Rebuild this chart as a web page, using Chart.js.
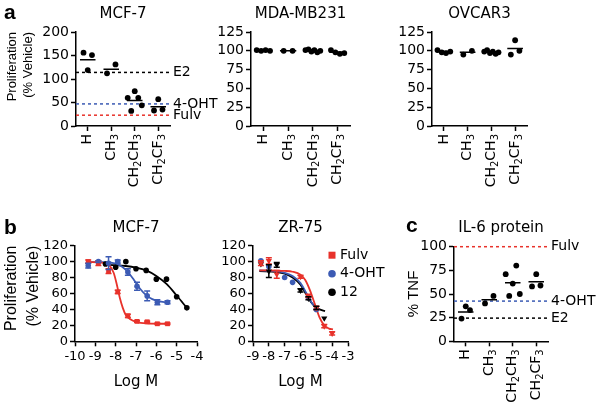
<!DOCTYPE html>
<html>
<head>
<meta charset="utf-8">
<script src="https://cdn.jsdelivr.net/npm/chart.js@4.4.1/dist/chart.umd.min.js"></script>
<style>
  body { margin: 0; background: #fff; }
  #fig { position: relative; width: 604px; height: 416px; overflow: hidden; }
  canvas { position: absolute; }
  .tag { position: absolute; font: bold 21px "Liberation Sans", Arial, sans-serif; line-height: 24px; }
</style>
</head>
<body>
<div id="fig">
  <canvas id="a1" width="232" height="210" style="left:0;top:0"></canvas>
  <canvas id="a2" width="170" height="210" style="left:205px;top:0"></canvas>
  <canvas id="a3" width="219" height="210" style="left:385px;top:0"></canvas>
  <canvas id="b1" width="215" height="193" style="left:0;top:200px"></canvas>
  <canvas id="b2" width="175" height="193" style="left:215px;top:200px"></canvas>
  <canvas id="c1" width="209" height="216" style="left:395px;top:200px"></canvas>
  <div class="tag" style="left:4px;top:0px">a</div>
  <div class="tag" style="left:4px;top:215px">b</div>
  <div class="tag" style="left:406px;top:213px">c</div>
</div>
<script>
// ---- data ----
const groups = ["H", "CH₃", "CH₂CH₃", "CH₂CF₃"];
const refNames = ["E2", "4-OHT", "Fulv"];

// panel a, replicates listed left to right inside each group
const mcf7Dots = [[156, 119, 151], [112, 131], [60, 32, 74, 60, 44], [33, 57, 35]];
const mcf7Means = [141, 121, 54, 41];
const mcf7Refs = [114, 47, 23];

const mdaDots = [[101, 100, 101, 100], [100, 100], [101, 102, 99, 101, 98, 100], [101, 98, 96, 97]];
const mdaMeans = [100.5, 100, 100, 98];

const ovcarDots = [[101, 98, 97, 99], [95, 100], [99, 101, 97, 99, 96, 98], [95, 114, 100]];
const ovcarMeans = [99, 98, 98.5, 103];

// panel b, MCF-7 (log M)
const fulvX = [-9.35, -8.85, -8.35, -7.9, -7.4, -6.95, -6.45, -5.95, -5.45];
const fulvY = [100, 98, 88, 62, 32, 25, 24.5, 22, 22];
const fulvErr = [2, 3, 3, 2, 2, 1, 1, 1, 1];
const ohtX = [-9.35, -8.85, -8.35, -7.9, -7.4, -6.95, -6.45, -5.95, -5.45];
const ohtY = [95, 100, 98, 100, 87, 69, 57, 49, 49];
const ohtErr = [3, 1, 8, 2, 4, 5, 6, 3, 2];
const cmpX = [-8.5, -8, -7.5, -7, -6.5, -6, -5.5, -5, -4.5];
const cmpY = [97, 93, 100, 91, 89, 78, 78, 56, 42];

const fulvFitX = [-9.35, -8.6, -8.3, -8.1, -7.95, -7.8, -7.65, -7.5, -7.3, -7.0, -6.5, -5.45];
const fulvFitY = [99.5, 98.5, 95, 86, 72, 55, 42, 33, 28, 24.5, 22.5, 22];
const ohtFitX = [-9.35, -8.5, -8, -7.7, -7.4, -7.1, -6.8, -6.5, -6.2, -5.9, -5.45];
const ohtFitY = [99.5, 99.3, 97.5, 94, 87, 77, 66, 58, 53, 50.5, 48.8];
const cmpFitX = [-8.5, -8, -7.5, -7, -6.5, -6, -5.5, -5, -4.5];
const cmpFitY = [96, 95.5, 94.5, 92.5, 89, 82, 72, 57.5, 42];

// panel b, ZR-75
const fulv2X = [-8.5, -8, -7.5, -6, -5.5, -5, -4.5, -4];
const fulv2Y = [98, 101, 84, 81, 57, 42, 19, 10];
const fulv2Err = [3, 4, 5, 2, 2, 2, 2, 2];
const oht2X = [-8.5, -8, -7, -6.5, -5.5, -5];
const oht2Y = [101, 94, 80, 74, 55, 40];
const cmp2X = [-8.5, -8, -7.5, -6, -5.5, -5, -4.5];
const cmp2Y = [97, 88, 96, 64, 54, 42, 29];
const cmp2Err = [0, 8, 3, 2, 2, 2, 0];

const fulv2FitX = [-8.6, -7.5, -7, -6.5, -6, -5.7, -5.4, -5.1, -4.8, -4.5, -4.2, -3.95];
const fulv2FitY = [89, 88.8, 88.4, 87.3, 83.5, 77, 64, 47, 30, 20, 16, 15];
const oht2FitX = [-8.6, -7.5, -7, -6.5, -6, -5.7, -5.4, -5.1, -4.95];
const oht2FitY = [89, 88, 86, 82, 73, 63, 52, 43, 40];
const cmp2FitX = [-8.6, -7.5, -7, -6.5, -6, -5.7, -5.4, -5.1, -4.8, -4.45];
const cmp2FitY = [88, 87, 85, 80, 71, 61, 51, 44, 40, 38];

const legendNames = ["Fulv", "4-OHT", "12"];

// panel c, IL-6 protein
const il6Dots = [[24, 37, 33], [40, 48], [71, 48, 61, 80, 50], [58, 71, 59]];
const il6Means = [31, 44, 62, 63];
const il6RefNames = ["Fulv", "4-OHT", "E2"];
const il6Refs = [100, 42.5, 24.5];

// ---- styling ----
const RED = "#e8322b", BLUE = "#3c5bb4", BLACK = "#000";
Chart.defaults.font.family = '"DejaVu Sans", sans-serif';
Chart.defaults.font.size = 13;
Chart.defaults.color = BLACK;
Chart.defaults.animation = false;
Chart.defaults.plugins.legend.display = false;
Chart.defaults.plugins.tooltip.enabled = false;

const axisBorder = { display: true, color: BLACK, width: 1.5 };
const axisGrid = { display: true, drawOnChartArea: false, tickLength: 5, tickWidth: 1.5, tickColor: BLACK };
const titleFont = { size: 15, weight: "normal" };
const SUBS = "₀₁₂₃₄₅₆₇₈₉";

// spread replicate dots side by side
function spread(k, n) {
  if (n < 2) return 0;
  const step = n === 2 ? 0.36 : Math.min(0.18, 0.6 / (n - 1));
  return (k - (n - 1) / 2) * step;
}

// rotated group names with real (smaller, lowered) subscripts
const chemLabels = {
  id: "chemLabels",
  afterDraw(chart) {
    const { ctx } = chart;
    const sx = chart.scales.x;
    sx.ticks.forEach(t => {
      const segs = [...groups[t.value]].map(ch => {
        const i = SUBS.indexOf(ch);
        return i >= 0 ? { t: String(i), sub: true } : { t: ch, sub: false };
      });
      let w = 0;
      segs.forEach(s => { ctx.font = s.sub ? '10px "DejaVu Sans"' : '14px "DejaVu Sans"'; s.w = ctx.measureText(s.t).width; w += s.w; });
      ctx.save();
      ctx.translate(sx.getPixelForValue(t.value), sx.top + 8);
      ctx.rotate(-Math.PI / 2);
      ctx.textBaseline = "middle";
      ctx.fillStyle = BLACK;
      let cx = -w;
      segs.forEach(s => {
        ctx.font = s.sub ? '10px "DejaVu Sans"' : '14px "DejaVu Sans"';
        ctx.fillText(s.t, cx, s.sub ? 4 : 0);
        cx += s.w;
      });
      ctx.restore();
    });
  }
};

function refText(names, vals) {
  return {
    id: "refText",
    afterDraw(chart) {
      const { ctx, chartArea, scales } = chart;
      ctx.save();
      ctx.font = '14px "DejaVu Sans"';
      ctx.fillStyle = BLACK;
      ctx.textBaseline = "middle";
      names.forEach((n, i) => ctx.fillText(n, chartArea.right + 3, scales.y.getPixelForValue(vals[i])));
      ctx.restore();
    }
  };
}

const errBars = {
  id: "errBars",
  afterDatasetsDraw(chart) {
    const { ctx, scales: { x, y } } = chart;
    chart.data.datasets.forEach(ds => {
      if (!ds.err) return;
      ctx.save();
      ctx.strokeStyle = ds.pointBackgroundColor;
      ctx.lineWidth = 1.5;
      ds.data.forEach((p, i) => {
        const e = ds.err[i];
        if (!e) return;
        const px = x.getPixelForValue(p.x);
        const y1 = y.getPixelForValue(p.y + e), y2 = y.getPixelForValue(p.y - e);
        ctx.beginPath();
        ctx.moveTo(px, y1); ctx.lineTo(px, y2);
        ctx.moveTo(px - 3, y1); ctx.lineTo(px + 3, y1);
        ctx.moveTo(px - 3, y2); ctx.lineTo(px + 3, y2);
        ctx.stroke();
      });
      ctx.restore();
    });
  }
};

const pointLegend = {
  id: "pointLegend",
  afterDraw(chart) {
    const { ctx, chartArea } = chart;
    const marks = [["rect", RED], ["circle", BLUE], ["circle", BLACK]];
    ctx.save();
    ctx.font = '14px "DejaVu Sans"';
    ctx.textBaseline = "middle";
    legendNames.forEach((name, i) => {
      const x = chartArea.right - 16, y = chartArea.top + 9.5 + i * 18.5;
      ctx.fillStyle = marks[i][1];
      if (marks[i][0] === "rect") ctx.fillRect(x - 3.5, y - 3.5, 7, 7);
      else { ctx.beginPath(); ctx.arc(x, y, 3.8, 0, 2 * Math.PI); ctx.fill(); }
      ctx.fillStyle = BLACK;
      ctx.fillText(name, x + 8, y);
    });
    ctx.restore();
  }
};

function dotChart(id, o) {
  const datasets = [{
    data: o.dots.flatMap((arr, i) => arr.map((v, k) => ({ x: i + spread(k, arr.length), y: v }))),
    pointRadius: 2.9, pointBackgroundColor: BLACK, pointBorderWidth: 0, clip: false
  }, {
    data: o.means.flatMap((m, i) => [{ x: i - 0.33, y: m }, { x: i + 0.33, y: m }, { x: i + 0.5, y: null }]),
    showLine: true, borderColor: BLACK, borderWidth: 1.5, pointRadius: 0, spanGaps: false
  }];
  (o.refs || []).forEach((v, i) => datasets.push({
    data: [{ x: -0.5, y: v }, { x: 3.5, y: v }],
    showLine: true, borderColor: o.refColors[i], borderWidth: 1.5, borderDash: [3, 3], pointRadius: 0, clip: false
  }));
  return new Chart(document.getElementById(id), {
    type: "scatter",
    data: { datasets },
    options: {
      responsive: false,
      layout: { padding: { right: o.padR } },
      plugins: {
        title: { display: true, text: o.title, fullSize: false, font: titleFont,
                 padding: { top: o.tTop, bottom: o.tBot } }
      },
      scales: {
        x: {
          type: "linear", min: -0.5, max: 3.5, border: axisBorder, grid: axisGrid,
          afterBuildTicks: s => { s.ticks = [0, 1, 2, 3].map(v => ({ value: v })); },
          ticks: { display: false },
          afterFit: s => { s.height = o.xH; }
        },
        y: {
          min: 0, max: o.yMax, border: axisBorder, grid: axisGrid,
          ticks: { stepSize: o.yStep, autoSkip: false, padding: 2, font: { size: 14 } },
          title: o.yTitle ? { display: true, text: o.yTitle, align: o.yAlign || "center",
                   font: { family: '"Liberation Sans", Arial', size: o.yTitleSize, lineHeight: 1.3 },
                   padding: { top: o.yTitlePad, bottom: 0 } } : { display: false },
          afterFit: s => { s.width = o.yW; }
        }
      }
    },
    plugins: [chemLabels].concat(o.refNames ? [refText(o.refNames, o.refs)] : [])
  });
}

function pts(xs, ys, color, style, errs, rotation) {
  return {
    data: xs.map((x, i) => ({ x, y: ys[i] })),
    pointStyle: style, pointRadius: style === "rect" ? 3.4 : style === "triangle" ? 3.6 : 2.8,
    pointRotation: rotation || 0, pointBackgroundColor: color, pointBorderWidth: 0,
    err: errs, clip: false
  };
}
function fit(xs, ys, color) {
  return {
    data: xs.map((x, i) => ({ x, y: ys[i] })),
    showLine: true, borderColor: color, borderWidth: 1.8, pointRadius: 0,
    cubicInterpolationMode: "monotone", clip: false
  };
}

function doseChart(id, o) {
  return new Chart(document.getElementById(id), {
    type: "scatter",
    data: { datasets: o.datasets },
    options: {
      responsive: false,
      layout: { padding: { right: o.padR } },
      plugins: {
        title: { display: true, text: o.title, fullSize: false, font: titleFont,
                 padding: { top: 19, bottom: 8.7 } }
      },
      scales: {
        x: {
          type: "linear", min: o.xMin, max: o.xMax, border: axisBorder, grid: axisGrid,
          ticks: { stepSize: 1, autoSkip: false, maxRotation: 0, minRotation: 0, padding: 3,
                   font: { size: 13 }, callback: v => String(v) },
          title: { display: true, text: "Log M", font: { size: 15 }, padding: { top: 0, bottom: 2 } },
          afterFit: s => { s.height = 51.7; }
        },
        y: {
          min: 0, max: 120, border: axisBorder, grid: axisGrid,
          ticks: { stepSize: 20, autoSkip: false, padding: 2, font: { size: 13 } },
          title: o.yTitle ? { display: true, text: o.yTitle, align: "end",
                   font: { family: '"Liberation Sans", Arial', size: 16, lineHeight: 1.35 },
                   padding: { top: 1.2, bottom: 0 } } : { display: false },
          afterFit: s => { s.width = o.yW; }
        }
      }
    },
    plugins: [errBars].concat(o.extra || [])
  });
}

// ---- panel a ----
dotChart("a1", {
  title: "MCF-7", dots: mcf7Dots, means: mcf7Means, refs: mcf7Refs, refNames: refNames,
  refColors: [BLACK, BLUE, RED], yMax: 200, yStep: 50, yW: 76, xH: 84, padR: 62, tTop: 5, tBot: 9,
  yTitle: ["Proliferation", "(% Vehicle)"], yTitleSize: 13, yTitlePad: 3.5, yAlign: "end"
});
dotChart("a2", {
  title: "MDA-MB231", dots: mdaDots, means: mdaMeans, yMax: 125, yStep: 25,
  yW: 46, xH: 84, padR: 25, tTop: 5, tBot: 9
});
dotChart("a3", {
  title: "OVCAR3", dots: ovcarDots, means: ovcarMeans, yMax: 125, yStep: 25,
  yW: 47, xH: 84, padR: 77, tTop: 5, tBot: 9
});

// ---- panel b ----
doseChart("b1", {
  title: "MCF-7", xMin: -10, xMax: -4, yW: 75, padR: 18, yTitle: ["Proliferation", "(% Vehicle)"],
  datasets: [
    pts(fulvX, fulvY, RED, "rect", fulvErr),
    pts(ohtX, ohtY, BLUE, "circle", ohtErr),
    pts(cmpX, cmpY, BLACK, "circle"),
    fit(fulvFitX, fulvFitY, RED),
    fit(ohtFitX, ohtFitY, BLUE),
    fit(cmpFitX, cmpFitY, BLACK)
  ]
});
doseChart("b2", {
  title: "ZR-75", xMin: -9, xMax: -3, yW: 38, padR: 42, extra: [pointLegend],
  datasets: [
    pts(fulv2X, fulv2Y, RED, "triangle", fulv2Err, 180),
    pts(oht2X, oht2Y, BLUE, "circle"),
    pts(cmp2X, cmp2Y, BLACK, "triangle", cmp2Err, 180),
    fit(fulv2FitX, fulv2FitY, RED),
    fit(oht2FitX, oht2FitY, BLUE),
    fit(cmp2FitX, cmp2FitY, BLACK)
  ]
});

// ---- panel c ----
dotChart("c1", {
  title: "IL-6 protein", dots: il6Dots, means: il6Means, refs: il6Refs, refNames: il6RefNames,
  refColors: [RED, BLUE, BLACK], yMax: 100, yStep: 25, yW: 59, xH: 74.7, padR: 56, tTop: 19, tBot: 9.7,
  yTitle: "% TNF", yTitleSize: 15, yTitlePad: 9.2
});
</script>
</body>
</html>
